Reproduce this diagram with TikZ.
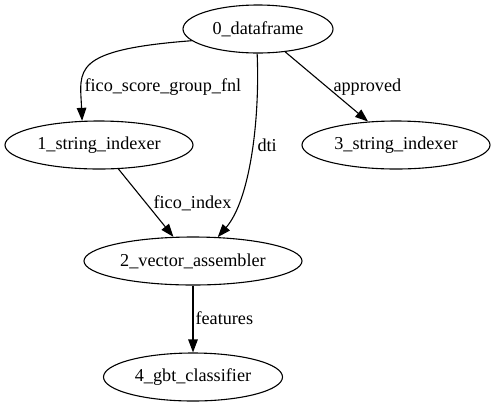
\documentclass[tikz,border=0pt]{standalone}
\usepackage{fontspec}
\setmainfont{Liberation Serif}
\usepackage{tikz}
\usetikzlibrary{arrows.meta,shapes.geometric}

\begin{document}
\begin{tikzpicture}[x=1bp,y=-1bp,font=\fontsize{18.2bp}{22bp}\selectfont,
   stage/.style={ellipse,draw,line width=1.1bp,minimum height=48bp,inner sep=0pt},
   flow/.style={line width=1.1bp,-{Triangle[length=13bp,width=9.5bp]}},
   lbl/.style={anchor=west,inner sep=0pt}]
\useasboundingbox (0,0) rectangle (494,407);
\node[stage,minimum width=150bp] (n0) at (258,29) {0\_dataframe};
\node[stage,minimum width=188bp] (n1) at (99,145) {1\_string\_indexer};
\node[stage,minimum width=188bp] (n3) at (396,145) {3\_string\_indexer};
\node[stage,minimum width=218bp] (n2) at (193,261) {2\_vector\_assembler};
\node[stage,minimum width=179bp] (n4) at (193,377) {4\_gbt\_classifier};
\draw[flow] (n0.190) .. controls (70,50) and (80,70) .. (n1.125)
   node[lbl] at (84,87) {fico\_score\_group\_fnl};
\draw[flow] (n0.268) .. controls (260,120) and (250,200) .. (n2.44)
   node[lbl] at (257,145) {dti};
\draw[flow] (n0) -- (n3) node[lbl] at (333,87) {approved};
\draw[flow] (n1) -- (n2) node[lbl] at (153,203) {fico\_index};
\draw[flow] (n2) -- (n4) node[lbl] at (195,318) {features};
\end{tikzpicture}
\end{document}
